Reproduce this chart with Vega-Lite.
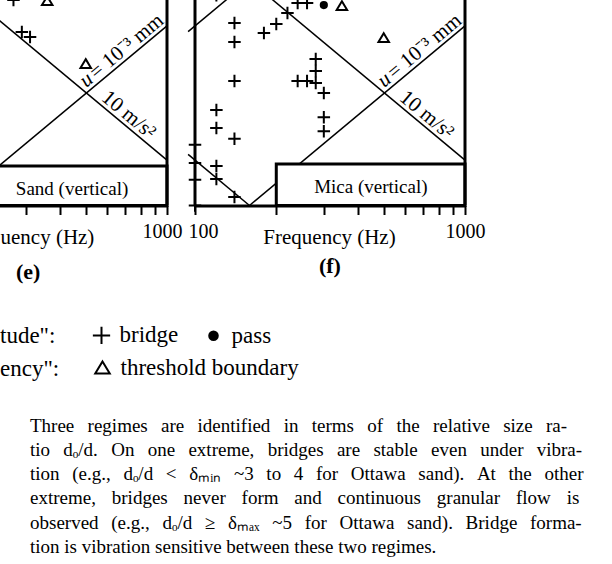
{
  "$schema": "https://vega.github.io/schema/vega-lite/v6.json",
  "width": 612,
  "height": 205.5,
  "autosize": {"type": "none"},
  "padding": {"left": 0, "top": 0, "right": 0, "bottom": 358.5},
  "background": "white",
  "config": {
    "view": {"stroke": null},
    "font": "Liberation Serif",
    "axis": {"grid": false, "domainColor": "black", "domainWidth": 3, "tickColor": "black", "tickWidth": 2, "tickSize": 9, "labelFont": "Liberation Serif", "labelFontSize": 20, "labelColor": "black", "titleFont": "Liberation Serif", "titleFontSize": 21, "titleFontWeight": "normal", "titleColor": "black", "labelOverlap": false, "labelFlush": false, "labelBaseline": "alphabetic", "labelPadding": 22.5, "titleBaseline": "alphabetic", "titleY": 37.5, "titleAlign": "center", "zindex": 1},
    "legend": {"orient": "none", "direction": "horizontal", "titleOrient": "left", "titleFontSize": 23, "titleFont": "Liberation Serif", "titleFontWeight": "normal", "titleColor": "black", "labelFont": "Liberation Serif", "labelFontSize": 23, "labelColor": "black", "labelOffset": 6.5, "symbolSize": 191, "symbolStrokeWidth": 2, "symbolStrokeColor": "black", "symbolOpacity": 1, "columnPadding": 23, "labelLimit": 400},
    "text": {"font": "Liberation Serif", "color": "black"}
  },
  "title": {
    "text": [
      "\u00a0\u00a0\u00a0\u00a0\u00a0\u00a0Three \u2005\u2009regimes \u2005\u2009are \u2005\u2009identified \u2005\u2009in \u2005\u2009terms \u2005\u2009of \u2005\u2009the \u2005\u2009relative \u2005\u2009size \u2005\u2009ra-",
      "tio \u2005\u2009dₒ/d. \u2005\u2009On \u2005\u2009one \u2005\u2009extreme, \u2005\u2009bridges \u2005\u2009are \u2005\u2009stable \u2005\u2009even \u2005\u2009under \u2005\u2009vibra-",
      "tion \u2005\u2006(e.g., \u2005\u2006dₒ/d \u2005\u2006< \u2005\u2006δₘᵢₙ \u2005\u2006~3 \u2005\u2006to \u2005\u20064 \u2005\u2006for \u2005\u2006Ottawa \u2005\u2006sand). \u2005\u2006At \u2005\u2006the \u2005\u2006other",
      "extreme, \u2005\u2005\u200abridges \u2005\u2005\u200anever \u2005\u2005\u200aform \u2005\u2005\u200aand \u2005\u2005\u200acontinuous \u2005\u2005\u200agranular \u2005\u2005\u200aflow \u2005\u2005\u200ais",
      "observed \u2005\u2006(e.g., \u2005\u2006dₒ/d \u2005\u2006≥ \u2005\u2006δₘₐₓ \u2005\u2006~5 \u2005\u2006for \u2005\u2006Ottawa \u2005\u2006sand). \u2005\u2006Bridge \u2005\u2006forma-",
      "tion is vibration sensitive between these two regimes."
    ],
    "orient": "bottom",
    "anchor": "start",
    "frame": "group",
    "offset": 51,
    "baseline": "alphabetic",
    "dx": 30,
    "font": "Liberation Serif",
    "fontSize": 19,
    "fontWeight": "normal",
    "color": "black",
    "lineHeight": 24.3
  },
  "datasets": {
    "e_amp": [
      {"freq": 270, "amp": 8.19, "obs": "bridge"},
      {"freq": 290, "amp": 5.9, "obs": "bridge"},
      {"freq": 311, "amp": 5.61, "obs": "bridge"}
    ],
    "e_freq": [
      {"freq": 360, "amp": 8.1, "obs": "threshold boundary"},
      {"freq": 500, "amp": 4.26, "obs": "threshold boundary"}
    ],
    "f_amp": [
      {"freq": 140, "amp": 6.47, "obs": "bridge"},
      {"freq": 140, "amp": 5.33, "obs": "bridge"},
      {"freq": 140, "amp": 3.58, "obs": "bridge"},
      {"freq": 180, "amp": 5.84, "obs": "bridge"},
      {"freq": 200, "amp": 6.41, "obs": "bridge"},
      {"freq": 220, "amp": 7.17, "obs": "bridge"},
      {"freq": 240, "amp": 7.94, "obs": "bridge"},
      {"freq": 260, "amp": 7.94, "obs": "bridge"},
      {"freq": 280, "amp": 4.48, "obs": "bridge"},
      {"freq": 280, "amp": 3.96, "obs": "bridge"},
      {"freq": 240, "amp": 3.58, "obs": "bridge"},
      {"freq": 260, "amp": 3.58, "obs": "bridge"},
      {"freq": 280, "amp": 3.5, "obs": "bridge"},
      {"freq": 300, "amp": 3.16, "obs": "bridge"},
      {"freq": 300, "amp": 2.47, "obs": "bridge"},
      {"freq": 300, "amp": 2.14, "obs": "bridge"},
      {"freq": 120, "amp": 2.66, "obs": "bridge"},
      {"freq": 120, "amp": 2.21, "obs": "bridge"},
      {"freq": 140, "amp": 1.98, "obs": "bridge"},
      {"freq": 100, "amp": 1.86, "obs": "bridge"},
      {"freq": 100, "amp": 1.545, "obs": "bridge"},
      {"freq": 100, "amp": 1.3, "obs": "bridge"},
      {"freq": 100, "amp": 1.0, "obs": "bridge"},
      {"freq": 120, "amp": 1.5, "obs": "bridge"},
      {"freq": 120, "amp": 1.31, "obs": "bridge"},
      {"freq": 140, "amp": 1.09, "obs": "bridge"},
      {"freq": 120, "amp": 8.6, "obs": "bridge"},
      {"freq": 300, "amp": 7.78, "obs": "pass"}
    ],
    "f_freq": [
      {"freq": 350, "amp": 7.7, "obs": "threshold boundary"},
      {"freq": 500, "amp": 5.55, "obs": "threshold boundary"}
    ],
    "e_lines": [
      {"line": "u = 1e-3 mm", "freq": 200, "amp": 1.2566},
      {"line": "u = 1e-3 mm", "freq": 1000, "amp": 6.2832},
      {"line": "a = 10 m/s2", "freq": 200, "amp": 7.9577},
      {"line": "a = 10 m/s2", "freq": 1000, "amp": 1.5915}
    ],
    "f_lines": [
      {"line": "u = 1e-3 mm", "freq": 159.15, "amp": 1.0},
      {"line": "u = 1e-3 mm", "freq": 1000, "amp": 6.2832},
      {"line": "a = 10 m/s2", "freq": 159.15, "amp": 10.0},
      {"line": "a = 10 m/s2", "freq": 1000, "amp": 1.5915},
      {"line": "a = 1 m/s2", "freq": 94.3, "amp": 1.6878},
      {"line": "a = 1 m/s2", "freq": 159.15, "amp": 1.0},
      {"line": "u = 1e-2 mm", "freq": 94.3, "amp": 5.925},
      {"line": "u = 1e-2 mm", "freq": 159.15, "amp": 10.0}
    ]
  },
  "layer": [
    {
      "layer": [
        {
          "data": {"name": "e_lines"},
          "mark": {"type": "line", "color": "black", "strokeWidth": 1.5},
          "encoding": {
            "x": {"field": "freq", "type": "quantitative", "scale": {"type": "log", "domain": [100, 1000], "range": [-103, 167]},
                  "axis": {"orient": "bottom", "values": [100, 200, 300, 400, 500, 600, 700, 800, 900, 1000], "format": "d", "labelExpr": "datum.value == 1000 ? '1000' : ''", "labelOffset": -5, "title": "uency (Hz)", "titleX": 0, "titleAlign": "left"}},
            "y": {"field": "amp", "type": "quantitative", "scale": {"type": "log", "domain": [1, 10], "range": [205.5, -19.5]}, "axis": null},
            "detail": {"field": "line", "type": "nominal"}
          }
        },
        {
          "data": {"values": [{}]},
          "mark": {"type": "rect", "fill": "white", "stroke": "black", "strokeWidth": 3},
          "encoding": {"x": {"datum": 200}, "x2": {"datum": 1000}, "y": {"datum": 1}, "y2": {"datum": 1.5}}
        },
        {
          "data": {"values": [{}]},
          "mark": {"type": "rule", "color": "black", "strokeWidth": 3},
          "encoding": {"x": {"datum": 1000}, "y": {"datum": 1}, "y2": {"datum": 10}}
        },
        {
          "data": {"name": "e_amp"},
          "mark": {"type": "point", "filled": true, "size": 100, "stroke": "black", "strokeWidth": 2, "opacity": 1},
          "encoding": {
            "x": {"field": "freq", "type": "quantitative"},
            "y": {"field": "amp", "type": "quantitative"},
            "shape": {"field": "obs", "type": "nominal", "scale": {"domain": ["bridge", "pass"], "range": ["M-1.25,0L1.25,0M0,-1.25L0,1.25", "M-0.62,0A0.62,0.62,0,1,1,0.62,0A0.62,0.62,0,1,1,-0.62,0Z"]}, "legend": null},
            "fill": {"field": "obs", "type": "nominal", "scale": {"domain": ["bridge", "pass"], "range": ["white", "black"]}, "legend": null}
          }
        },
        {
          "data": {"name": "e_freq"},
          "mark": {"type": "point", "filled": true, "size": 100, "stroke": "black", "strokeWidth": 2, "opacity": 1},
          "encoding": {
            "x": {"field": "freq", "type": "quantitative"},
            "y": {"field": "amp", "type": "quantitative"},
            "shape": {"field": "obs", "type": "nominal", "scale": {"domain": ["threshold boundary"], "range": ["M0,-0.95L1.05,0.8L-1.05,0.8Z"]}, "legend": null},
            "fill": {"field": "obs", "type": "nominal", "scale": {"domain": ["threshold boundary"], "range": ["white"]}, "legend": null}
          }
        },
        {
          "data": {"values": [{}]},
          "mark": {"type": "text", "text": "Sand (vertical)", "fontSize": 19, "align": "center", "baseline": "middle"},
          "encoding": {"x": {"datum": 445}, "y": {"datum": 1.18}}
        },
        {
          "data": {"values": [{}]},
          "mark": {"type": "text", "text": "u", "fontSize": 21, "fontStyle": "italic", "align": "left", "baseline": "alphabetic", "angle": -39.8, "dy": -4},
          "encoding": {"x": {"datum": 513}, "y": {"datum": 3.223}}
        },
        {
          "data": {"values": [{}]},
          "mark": {"type": "text", "text": "= 10⁻³ mm", "fontSize": 21, "align": "left", "baseline": "alphabetic", "angle": -39.8, "dy": -4, "dx": 13},
          "encoding": {"x": {"datum": 513}, "y": {"datum": 3.223}}
        },
        {
          "data": {"values": [{}]},
          "mark": {"type": "text", "text": "10 m/s²", "fontSize": 21, "align": "left", "baseline": "alphabetic", "angle": 39.8, "dy": -4},
          "encoding": {"x": {"datum": 555}, "y": {"datum": 2.868}}
        },
        {
          "data": {"values": [{}]},
          "mark": {"type": "text", "text": "(e)", "fontSize": 22, "fontWeight": "bold", "align": "center", "baseline": "alphabetic"},
          "encoding": {"x": {"datum": 306}, "y": {"datum": 0.4714}}
        }
      ],
      "resolve": {"scale": {"shape": "independent", "fill": "independent"}}
    },
    {
      "layer": [
        {
          "data": {"name": "f_lines"},
          "mark": {"type": "line", "color": "black", "strokeWidth": 1.5},
          "encoding": {
            "x": {"field": "freq", "type": "quantitative", "scale": {"type": "log", "domain": [100, 1000], "range": [195, 465]},
                  "axis": {"orient": "bottom", "values": [100, 200, 300, 400, 500, 600, 700, 800, 900, 1000], "format": "d", "labelExpr": "datum.value == 100 || datum.value == 1000 ? format(datum.value, 'd') : ''", "labelOffset": {"condition": {"test": "datum.value == 100", "value": 8}, "value": 0}, "title": "Frequency (Hz)", "titleX": 329}},
            "y": {"field": "amp", "type": "quantitative", "scale": {"type": "log", "domain": [1, 10], "range": [205.5, -19.5]}, "axis": null},
            "detail": {"field": "line", "type": "nominal"}
          }
        },
        {
          "data": {"values": [{}]},
          "mark": {"type": "rect", "fill": "white", "stroke": "black", "strokeWidth": 3},
          "encoding": {"x": {"datum": 200}, "x2": {"datum": 1000}, "y": {"datum": 1}, "y2": {"datum": 1.53}}
        },
        {
          "data": {"values": [{}]},
          "mark": {"type": "rule", "color": "black", "strokeWidth": 3},
          "encoding": {"x": {"datum": 100}, "y": {"datum": 1}, "y2": {"datum": 10}}
        },
        {
          "data": {"values": [{}]},
          "mark": {"type": "rule", "color": "black", "strokeWidth": 3},
          "encoding": {"x": {"datum": 1000}, "y": {"datum": 1}, "y2": {"datum": 10}}
        },
        {
          "data": {"name": "f_amp"},
          "mark": {"type": "point", "filled": true, "size": 100, "stroke": "black", "strokeWidth": 2, "opacity": 1},
          "encoding": {
            "x": {"field": "freq", "type": "quantitative"},
            "y": {"field": "amp", "type": "quantitative"},
            "shape": {"field": "obs", "type": "nominal", "scale": {"domain": ["bridge", "pass"], "range": ["M-1.25,0L1.25,0M0,-1.25L0,1.25", "M-0.62,0A0.62,0.62,0,1,1,0.62,0A0.62,0.62,0,1,1,-0.62,0Z"]},
                      "legend": {"title": "tude\":", "legendX": 0, "legendY": 323.5, "titlePadding": 34, "symbolStrokeColor": "black", "symbolStrokeWidth": 2, "encode": {"symbols": {"update": {"stroke": {"value": "black"}, "strokeWidth": {"value": 2}}}}}},
            "fill": {"field": "obs", "type": "nominal", "scale": {"domain": ["bridge", "pass"], "range": ["white", "black"]},
                      "legend": {"title": "tude\":", "legendX": 0, "legendY": 323.5, "titlePadding": 34, "symbolStrokeColor": "black", "symbolStrokeWidth": 2, "encode": {"symbols": {"update": {"stroke": {"value": "black"}, "strokeWidth": {"value": 2}}}}}}
          }
        },
        {
          "data": {"name": "f_freq"},
          "mark": {"type": "point", "filled": true, "size": 100, "stroke": "black", "strokeWidth": 2, "opacity": 1},
          "encoding": {
            "x": {"field": "freq", "type": "quantitative"},
            "y": {"field": "amp", "type": "quantitative"},
            "shape": {"field": "obs", "type": "nominal", "scale": {"domain": ["threshold boundary"], "range": ["M0,-0.95L1.05,0.8L-1.05,0.8Z"]},
                      "legend": {"title": "ency\":", "legendX": 0, "legendY": 356.5, "titlePadding": 31, "symbolStrokeColor": "black", "symbolStrokeWidth": 2, "encode": {"symbols": {"update": {"stroke": {"value": "black"}, "strokeWidth": {"value": 2}}}}}},
            "fill": {"field": "obs", "type": "nominal", "scale": {"domain": ["threshold boundary"], "range": ["white"]},
                      "legend": {"title": "ency\":", "legendX": 0, "legendY": 356.5, "titlePadding": 31, "symbolStrokeColor": "black", "symbolStrokeWidth": 2, "encode": {"symbols": {"update": {"stroke": {"value": "black"}, "strokeWidth": {"value": 2}}}}}}
          }
        },
        {
          "data": {"values": [{}]},
          "mark": {"type": "text", "text": "Mica (vertical)", "fontSize": 19, "align": "center", "baseline": "middle"},
          "encoding": {"x": {"datum": 448}, "y": {"datum": 1.208}}
        },
        {
          "data": {"values": [{}]},
          "mark": {"type": "text", "text": "u", "fontSize": 21, "fontStyle": "italic", "align": "left", "baseline": "alphabetic", "angle": -39.8, "dy": -4},
          "encoding": {"x": {"datum": 513}, "y": {"datum": 3.223}}
        },
        {
          "data": {"values": [{}]},
          "mark": {"type": "text", "text": "= 10⁻³ mm", "fontSize": 21, "align": "left", "baseline": "alphabetic", "angle": -39.8, "dy": -4, "dx": 13},
          "encoding": {"x": {"datum": 513}, "y": {"datum": 3.223}}
        },
        {
          "data": {"values": [{}]},
          "mark": {"type": "text", "text": "10 m/s²", "fontSize": 21, "align": "left", "baseline": "alphabetic", "angle": 39.8, "dy": -4},
          "encoding": {"x": {"datum": 555}, "y": {"datum": 2.868}}
        },
        {
          "data": {"values": [{}]},
          "mark": {"type": "text", "text": "(f)", "fontSize": 22, "fontWeight": "bold", "align": "center", "baseline": "alphabetic"},
          "encoding": {"x": {"datum": 316}, "y": {"datum": 0.501}}
        }
      ],
      "resolve": {"scale": {"shape": "independent", "fill": "independent"}}
    }
  ],
  "resolve": {"scale": {"x": "independent", "shape": "independent", "fill": "independent"}, "axis": {"x": "independent"}}
}
